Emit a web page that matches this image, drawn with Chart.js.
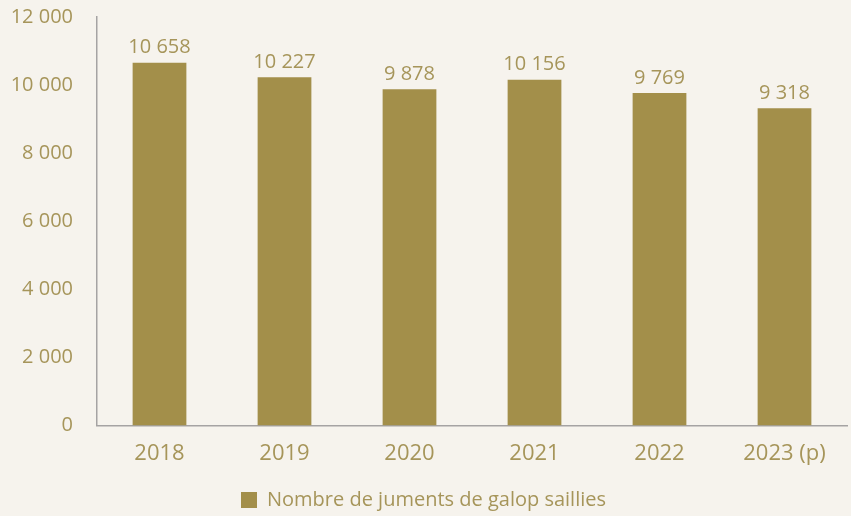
<!DOCTYPE html>
<html>
<head>
<meta charset="utf-8">
<script src="https://cdn.jsdelivr.net/npm/chart.js@4"></script>
<style>
  html, body { margin: 0; padding: 0; background: #f6f3ed; }
  #wrap { width: 851px; height: 516px; }
</style>
</head>
<body>
<div id="wrap"><canvas id="BarChartJuments"></canvas></div>
<script>
const years = ['2018', '2019', '2020', '2021', '2022', '2023 (p)']
const juments = [10658, 10227, 9878, 10156, 9769, 9318]
const y_ticks = [0, 2000, 4000, 6000, 8000, 10000, 12000]

const textColor = '#a6955a'
const barColor = '#a38f4a'
const fontFamily = 'Open Sans'

// Format "10 658"
function spaced(v) {
    return String(v).replace(/\B(?=(\d{3})+(?!\d))/g, ' ')
}

// Étiquettes au-dessus des barres
const valueLabels = {
    id: 'valueLabels',
    afterDatasetsDraw(chart) {
        const ctx = chart.ctx
        const meta = chart.getDatasetMeta(0)
        ctx.save()
        ctx.fillStyle = textColor
        ctx.font = '20px "' + fontFamily + '"'
        ctx.textAlign = 'center'
        ctx.textBaseline = 'bottom'
        meta.data.forEach((bar, i) => {
            ctx.fillText(spaced(chart.data.datasets[0].data[i]), bar.x, bar.y - 5)
        })
        ctx.restore()
    }
}

const data = {
    labels: years,
    datasets: [{
        label: 'Nombre de juments de galop saillies',
        data: juments,
        backgroundColor: barColor,
        borderWidth: 0,
        categoryPercentage: 1,
        barPercentage: 0.43
    }]
}

const config = {
    type: 'bar',
    data: data,
    options: {
        responsive: true,
        maintainAspectRatio: false,
        animation: false,
        layout: { padding: { top: 0, right: 4, left: 0, bottom: -4 } },
        plugins: {
            legend: {
                position: 'bottom',
                labels: {
                    color: textColor,
                    font: { family: fontFamily, size: 20 },
                    boxWidth: 16,
                    boxHeight: 16,
                    padding: 8
                }
            },
            tooltip: { enabled: false }
        },
        scales: {
            y: {
                min: 0,
                max: 12000,
                afterBuildTicks(scale) {
                    scale.ticks = y_ticks.map(v => ({ value: v }))
                },
                afterFit(scale) {
                    scale.width = 97
                    // le padding des ticks s'ajoute en haut : on le retire
                    scale.paddingTop = 17
                    scale.paddingBottom = 12
                },
                grid: { display: false, drawTicks: false },
                border: { display: true, color: '#a5a3a3', width: 1.5 },
                ticks: {
                    color: textColor,
                    font: { family: fontFamily, size: 20 },
                    padding: 24,
                    callback: v => spaced(v)
                }
            },
            x: {
                grid: { display: false, drawTicks: false },
                border: { display: true, color: '#a5a3a3', width: 1.5 },
                ticks: {
                    color: textColor,
                    font: { family: fontFamily, size: 22 },
                    padding: 15
                }
            }
        }
    },
    plugins: [valueLabels]
}

new Chart(document.getElementById('BarChartJuments'), config)
</script>
</body>
</html>
